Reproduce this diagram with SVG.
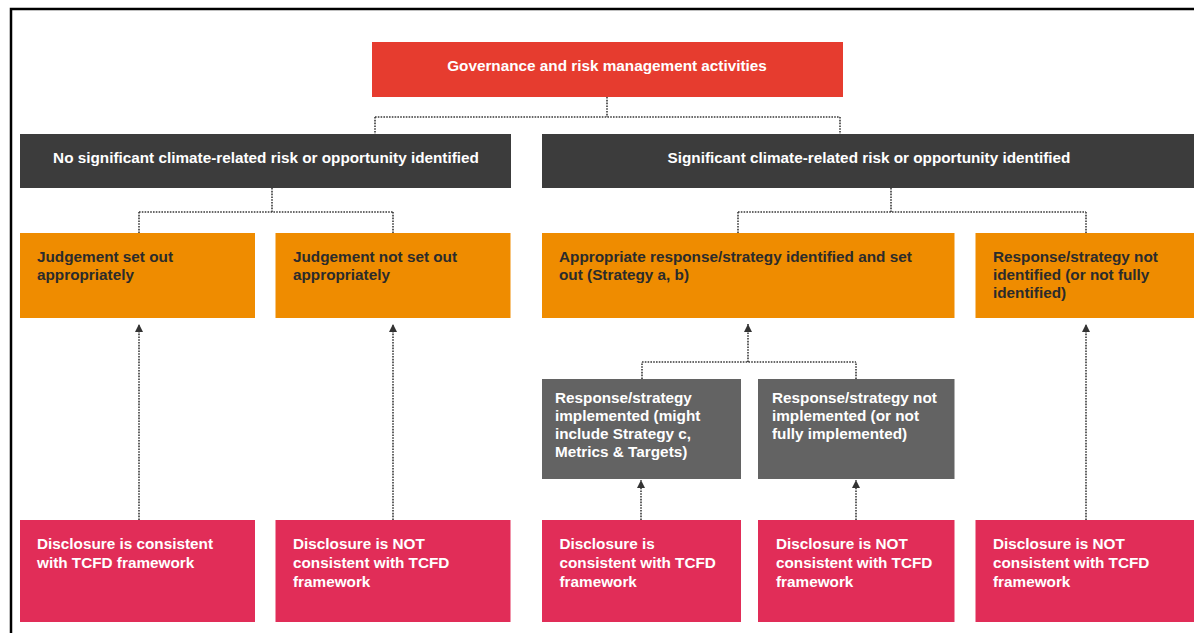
<svg xmlns="http://www.w3.org/2000/svg" width="1194" height="633" viewBox="0 0 1194 633">
<defs>
<marker id="ah" viewBox="0 0 10 10" refX="10" refY="5" markerWidth="8" markerHeight="9" markerUnits="userSpaceOnUse" orient="auto">
<path d="M0,0 L10,5 L0,10 Z" fill="#333"/>
</marker>
<style>
.t{font-family:"Liberation Sans",Arial,sans-serif;font-weight:bold;font-size:15.3px}
.w{fill:#ffffff}
.d{fill:#2b2b2b}
.red{fill:#E63C2F}
.dark{fill:#3C3C3C}
.org{fill:#EF8C00}
.gry{fill:#636363}
.pnk{fill:#E12D58}
.c{fill:none;stroke:#3a3a3a;stroke-width:1.6;stroke-dasharray:1.6,1.2}
</style>
</defs>
<rect x="0" y="0" width="1194" height="633" fill="#ffffff"/>
<rect x="11" y="9" width="1200" height="700" fill="none" stroke="#000" stroke-width="2.5"/>

<g id="connectors">
<path class="c" d="M607,97 V117 M375,117 H840 M375,117 V134 M840,117 V134"/>
<path class="c" d="M272,188 V212 M139,212 H393 M139,212 V233 M393,212 V233"/>
<path class="c" d="M891,188 V212 M738,212 H1086 M738,212 V233 M1086,212 V233"/>
<path class="c" d="M139,520 V324" marker-end="url(#ah)"/>
<path class="c" d="M393,520 V324" marker-end="url(#ah)"/>
<path class="c" d="M642,379 V362 M856,379 V362 M642,362 H856 M748,362 V324" marker-end="url(#ah)"/>
<path class="c" d="M1086,520 V324" marker-end="url(#ah)"/>
<path class="c" d="M641,520 V480" marker-end="url(#ah)"/>
<path class="c" d="M856,520 V480" marker-end="url(#ah)"/>
</g>

<g id="governance">
<rect class="red" x="372" y="42" width="471" height="55"/>
<text class="t w" x="607" y="71" text-anchor="middle">Governance and risk management activities</text>
</g>
<g id="no-risk">
<rect class="dark" x="20" y="134" width="491" height="54"/>
<text class="t w" x="266" y="163" text-anchor="middle">No significant climate-related risk or opportunity identified</text>
</g>
<g id="risk">
<rect class="dark" x="542" y="134" width="660" height="54"/>
<text class="t w" x="869" y="163" text-anchor="middle">Significant climate-related risk or opportunity identified</text>
</g>
<g id="judgement-set">
<rect class="org" x="20" y="233" width="235" height="85"/>
<text class="t d" x="37" y="262">Judgement set out<tspan x="37" dy="18">appropriately</tspan></text>
</g>
<g id="judgement-not-set">
<rect class="org" x="275.5" y="233" width="235" height="85"/>
<text class="t d" x="293" y="262">Judgement not set out<tspan x="293" dy="18">appropriately</tspan></text>
</g>
<g id="appropriate-response">
<rect class="org" x="542" y="233" width="412.5" height="85"/>
<text class="t d" x="559" y="262">Appropriate response/strategy identified and set<tspan x="559" dy="18">out (Strategy a, b)</tspan></text>
</g>
<g id="response-not-identified">
<rect class="org" x="975.5" y="233" width="230" height="85"/>
<text class="t d" x="993" y="262">Response/strategy not<tspan x="993" dy="18">identified (or not fully</tspan><tspan x="993" dy="18">identified)</tspan></text>
</g>
<g id="implemented">
<rect class="gry" x="542" y="379" width="199" height="100"/>
<text class="t w" x="555" y="403">Response/strategy<tspan x="555" dy="18">implemented (might</tspan><tspan x="555" dy="18">include Strategy c,</tspan><tspan x="555" dy="18">Metrics &amp; Targets)</tspan></text>
</g>
<g id="not-implemented">
<rect class="gry" x="758" y="379" width="196.5" height="100"/>
<text class="t w" x="772" y="403">Response/strategy not<tspan x="772" dy="18">implemented (or not</tspan><tspan x="772" dy="18">fully implemented)</tspan></text>
</g>
<g id="disclosure-1">
<rect class="pnk" x="20" y="520" width="235" height="102"/>
<text class="t w" x="37" y="549">Disclosure is consistent<tspan x="37" dy="19">with TCFD framework</tspan></text>
</g>
<g id="disclosure-2">
<rect class="pnk" x="275.5" y="520" width="235" height="102"/>
<text class="t w" x="293" y="549">Disclosure is NOT<tspan x="293" dy="19">consistent with TCFD</tspan><tspan x="293" dy="19">framework</tspan></text>
</g>
<g id="disclosure-3">
<rect class="pnk" x="542" y="520" width="199" height="102"/>
<text class="t w" x="559.5" y="549">Disclosure is<tspan x="559.5" dy="19">consistent with TCFD</tspan><tspan x="559.5" dy="19">framework</tspan></text>
</g>
<g id="disclosure-4">
<rect class="pnk" x="758" y="520" width="196.5" height="102"/>
<text class="t w" x="776" y="549">Disclosure is NOT<tspan x="776" dy="19">consistent with TCFD</tspan><tspan x="776" dy="19">framework</tspan></text>
</g>
<g id="disclosure-5">
<rect class="pnk" x="975.5" y="520" width="230" height="102"/>
<text class="t w" x="993" y="549">Disclosure is NOT<tspan x="993" dy="19">consistent with TCFD</tspan><tspan x="993" dy="19">framework</tspan></text>
</g>
</svg>
